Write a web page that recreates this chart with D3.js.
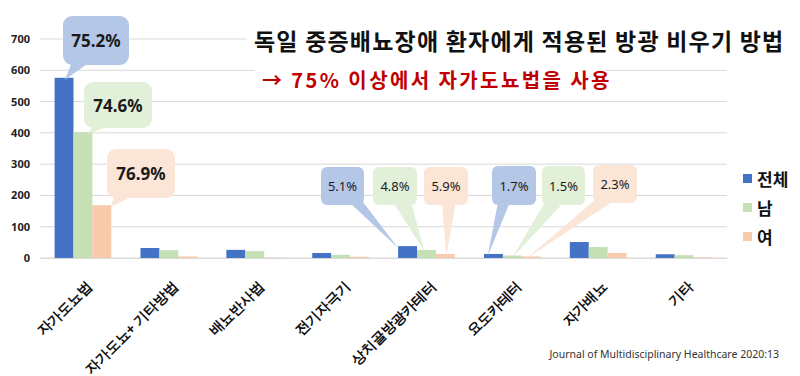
<!DOCTYPE html>
<html>
<head>
<meta charset="utf-8">
<script src="https://cdn.jsdelivr.net/npm/d3@7"></script>
<style>
  body { margin: 0; background: #fff; }
  svg { display: block; font-family: "Noto Sans CJK KR", "Noto Sans", sans-serif; }
</style>
</head>
<body>
<svg id="chart" width="800" height="376"></svg>
<script>
const categories = ['자가도뇨법', '자가도뇨+ 기타방법', '배뇨반사법', '전기자극기', '상치골방광카테터', '요도카테터', '자가배뇨', '기타'];
const seriesNames = ['전체', '남', '여'];
const totalValues = [576, 32, 26, 16, 38, 13, 51, 12];
const maleValues = [403, 25, 22, 10, 26, 8, 35, 9];
const femaleValues = [169, 5, 1, 4, 13, 5, 16, 2];
const yTicks = [0, 100, 200, 300, 400, 500, 600, 700];

// callout labels: category index, series index, text
const calloutCats = [0, 0, 0, 4, 4, 4, 5, 5, 5];
const calloutSeries = [0, 1, 2, 0, 1, 2, 0, 1, 2];
const calloutTexts = ['75.2%', '74.6%', '76.9%', '5.1%', '4.8%', '5.9%', '1.7%', '1.5%', '2.3%'];

const title = '독일 중증배뇨장애 환자에게 적용된 방광 비우기 방법';
const subtitle = '→ 75% 이상에서 자가도뇨법을 사용';
const source = 'Journal of Multidisciplinary Healthcare 2020:13';

const values = [totalValues, maleValues, femaleValues];
const barColors = ['#4472c4', '#c5e0b4', '#f8cbad'];
const boxColors = ['#b4c7e7', '#e2f0d9', '#fbe5d6'];

const svg = d3.select('#chart');
const margin = { left: 40, right: 73, top: 39, bottom: 118 };
const width = 800 - margin.left - margin.right;
const height = 376 - margin.top - margin.bottom;
const g = svg.append('g').attr('transform', `translate(${margin.left},${margin.top})`);

const x = d3.scaleBand().domain(d3.range(categories.length)).range([0, width]).paddingInner(0.34).paddingOuter(0.17);
const xSub = d3.scaleBand().domain(d3.range(3)).range([0, x.bandwidth()]);
const y = d3.scaleLinear().domain([0, 700]).range([height, 0]);

// gridlines
g.selectAll('.grid')
  .data(yTicks)
  .enter().append('line')
  .attr('x1', 0).attr('x2', width)
  .attr('y1', d => y(d)).attr('y2', d => y(d))
  .attr('stroke', '#d9d9d9').attr('stroke-width', 1);

// y axis labels
const yAxis = g.append('g').call(d3.axisLeft(y).tickValues(yTicks).tickSize(0).tickPadding(10));
yAxis.select('.domain').remove();
yAxis.selectAll('text')
  .attr('font-size', 11).attr('font-weight', 'bold').attr('fill', '#222')
  .style('font-family', '"Noto Sans", sans-serif');

// title boxes (white background over gridlines)
svg.append('rect').attr('x', 247).attr('y', 24).attr('width', 553).attr('height', 34).attr('fill', '#fff');
svg.append('rect').attr('x', 255).attr('y', 60).attr('width', 350).attr('height', 36).attr('fill', '#fff');

svg.append('text')
  .attr('x', 254).attr('y', 50)
  .attr('font-size', 23).attr('font-weight', 'bold').attr('fill', '#111')
  .attr('letter-spacing', 1.2)
  .text(title);
svg.append('text')
  .attr('x', 262).attr('y', 88)
  .attr('font-size', 20).attr('font-weight', 'bold').attr('fill', '#c00000')
  .attr('letter-spacing', 2.4)
  .text(subtitle);

// bars
const groups = g.selectAll('.cat')
  .data(categories)
  .enter().append('g')
  .attr('transform', (d, i) => `translate(${x(i)},0)`);

groups.selectAll('rect')
  .data((d, i) => values.map((s, k) => ({ k, v: s[i] })))
  .enter().append('rect')
  .attr('x', d => xSub(d.k))
  .attr('y', d => y(d.v))
  .attr('width', xSub.bandwidth())
  .attr('height', d => height - y(d.v))
  .attr('fill', d => barColors[d.k]);

// x labels
const xAxis = g.append('g').attr('transform', `translate(0,${height})`)
  .call(d3.axisBottom(x).tickFormat(i => categories[i]).tickSize(0));
xAxis.select('.domain').attr('stroke', '#d9d9d9');
xAxis.selectAll('text')
  .attr('font-size', 14).attr('font-weight', 'bold').attr('fill', '#111')
  .attr('text-anchor', 'end')
  .attr('y', 0).attr('dy', 0)
  .attr('transform', 'translate(10,29) rotate(-45)');

// callouts: box positions (absolute) and tail base offsets
const calloutLayout = [
  { bx: 63, by: 16, w: 66, h: 49, r: 9, t0: 9, t1: 27, fx: 0.55, big: true },
  { bx: 84, by: 82, w: 68, h: 46, r: 9, t0: 10, t1: 30, fx: 0.7, big: true },
  { bx: 107, by: 149, w: 68, h: 49, r: 9, t0: 8, t1: 28, fx: 0.95, big: true },
  { bx: 321, by: 167, w: 43, h: 38, r: 6, t0: 28, t1: 42, fx: 0.0, big: false },
  { bx: 373, by: 167, w: 44, h: 38, r: 6, t0: 20, t1: 38, fx: 0.4, big: false },
  { bx: 424, by: 167, w: 44, h: 38, r: 6, t0: 18, t1: 32, fx: 0.55, big: false },
  { bx: 492, by: 166, w: 44, h: 39, r: 6, t0: 6, t1: 18, fx: 0.2, big: false },
  { bx: 542, by: 166, w: 43, h: 39, r: 6, t0: 3, t1: 22, fx: 0.5, big: false },
  { bx: 593, by: 165, w: 44, h: 38, r: 6, t0: 2, t1: 22, fx: 0.25, big: false }
];

const callouts = svg.append('g');
calloutTexts.forEach((txt, i) => {
  const L = calloutLayout[i];
  const c = calloutCats[i], s = calloutSeries[i];
  const tipX = margin.left + x(c) + xSub(s) + xSub.bandwidth() * L.fx;
  const tipY = margin.top + y(values[s][c]) + 2;
  const bottom = L.by + L.h;
  callouts.append('path')
    .attr('d', `M${L.bx + L.t0},${bottom - 3} L${tipX},${tipY} L${L.bx + L.t1},${bottom - 3} Z`)
    .attr('fill', boxColors[s]);
  callouts.append('rect')
    .attr('x', L.bx).attr('y', L.by).attr('width', L.w).attr('height', L.h)
    .attr('rx', L.r).attr('fill', boxColors[s]);
  callouts.append('text')
    .attr('x', L.bx + L.w / 2).attr('y', L.by + L.h / 2)
    .attr('text-anchor', 'middle').attr('dominant-baseline', 'central')
    .attr('font-size', L.big ? 17 : 13)
    .attr('font-weight', L.big ? 'bold' : 'normal')
    .attr('fill', '#1a1a1a')
    .style('font-family', '"Noto Sans", sans-serif')
    .text(txt);
});

// legend
const legend = svg.append('g').attr('transform', 'translate(743,178)');
seriesNames.forEach((name, i) => {
  const row = legend.append('g').attr('transform', `translate(0,${i * 29})`);
  row.append('rect').attr('x', 0).attr('y', -4).attr('width', 9).attr('height', 9).attr('fill', barColors[i]);
  row.append('text').attr('x', 14).attr('y', 0).attr('dominant-baseline', 'central')
    .attr('font-size', 17).attr('font-weight', 'bold').attr('fill', '#111').text(name);
});

// source
svg.append('text')
  .attr('x', 779).attr('y', 358).attr('text-anchor', 'end')
  .attr('font-size', 10.5).attr('fill', '#333')
  .style('font-family', '"Noto Sans", sans-serif')
  .text(source);
</script>
</body>
</html>
